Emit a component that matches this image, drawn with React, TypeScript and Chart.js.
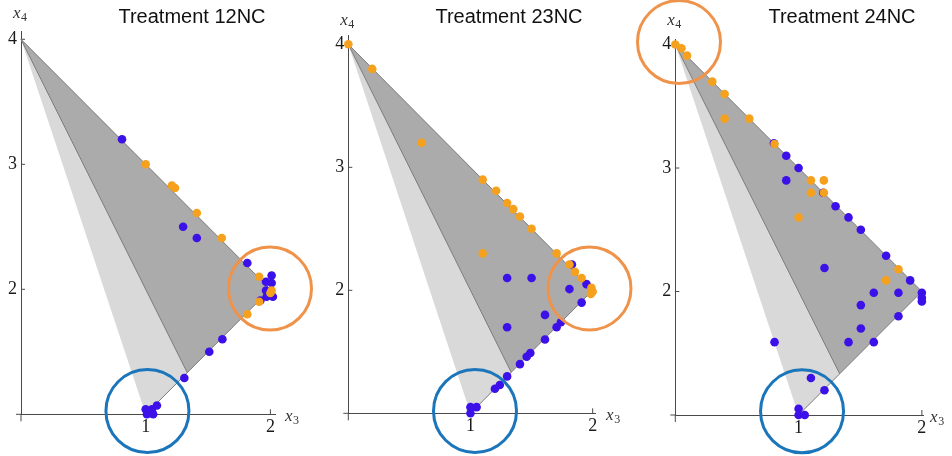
import React, { useEffect, useRef } from "react";
import { Chart, registerables } from "chart.js";

Chart.register(...registerables);

type Pt = [number, number];

// ---------- data ----------
const xTickValues = [1, 2];
const yTickValues = [2, 3, 4];

const lightRegion: Pt[] = [[0, 4], [1, 1], [4 / 3, 4 / 3], [0, 4]];
const darkRegion: Pt[] = [[0, 4], [4 / 3, 4 / 3], [2, 2], [0, 4]];
const lowerEdge: Pt[] = [[1, 1], [4 / 3, 4 / 3]];

const titles = ["Treatment 12NC", "Treatment 23NC", "Treatment 24NC"];

const blue12: Pt[] = [
  [0.81, 3.2], [1.3, 2.5], [1.41, 2.41], [1.815, 2.21], [2.01, 2.11], [1.965, 2.06],
  [2.01, 2.05], [1.965, 1.99], [2.02, 1.94], [1.97, 1.94], [2.0, 1.98], [1.92, 1.91],
  [1.615, 1.6], [1.51, 1.5], [1.31, 1.29], [1.0, 1.04], [1.05, 1.04], [1.09, 1.07],
  [1.01, 1.0], [1.06, 1.0],
];
const orange12: Pt[] = [
  [1.0, 3.0], [1.21, 2.83], [1.235, 2.81], [1.41, 2.61], [1.61, 2.41], [1.91, 2.1],
  [2.01, 1.99], [2.0, 1.97], [1.91, 1.9], [1.815, 1.8],
];
const blueRing12: Pt[] = [[1.014, 1.026]];
const orangeRing12: Pt[] = [[1.997, 2.006]];

const blue23: Pt[] = [
  [1.83, 2.21], [1.95, 2.05], [1.3, 2.1], [1.5, 2.1], [1.81, 2.01], [1.91, 1.9],
  [1.61, 1.8], [1.3, 1.7], [1.74, 1.74], [1.705, 1.7], [1.61, 1.6], [1.49, 1.49],
  [1.46, 1.46], [1.405, 1.4], [1.3, 1.3], [1.24, 1.23], [1.2, 1.2], [1.0, 1.05],
  [1.05, 1.05], [1.0, 1.0],
];
const orange23: Pt[] = [
  [0, 4], [0.196, 3.8], [0.6, 3.2], [1.1, 2.9], [1.21, 2.81], [1.3, 2.71], [1.35, 2.66],
  [1.405, 2.6], [1.5, 2.5], [1.1, 2.3], [1.705, 2.3], [1.81, 2.21], [1.855, 2.15],
  [1.91, 2.1], [1.99, 2.02], [2.0, 1.99], [1.985, 1.97],
];
const blueRing23: Pt[] = [[1.037, 1.019]];
const orangeRing23: Pt[] = [[1.974, 2.015]];

const blue24: Pt[] = [
  [0.8, 3.2], [0.9, 3.1], [1.0, 3.0], [0.9, 2.9], [1.2, 2.8], [1.3, 2.69], [1.405, 2.6],
  [1.505, 2.5], [1.71, 2.29], [1.21, 2.19], [1.905, 2.09], [1.61, 1.99], [1.81, 1.99],
  [2.0, 1.99], [2.0, 1.95], [2.0, 1.92], [1.505, 1.89], [1.81, 1.8], [1.505, 1.7],
  [0.805, 1.59], [1.405, 1.59], [1.61, 1.59], [1.1, 1.3], [1.21, 1.2], [1.0, 1.05],
  [1.0, 1.0], [1.05, 1.0],
];
const orange24: Pt[] = [
  [0, 4], [0.05, 3.97], [0.095, 3.91], [0.3, 3.7], [0.4, 3.6], [0.4, 3.4], [0.6, 3.4],
  [0.805, 3.195], [1.1, 2.9], [1.205, 2.9], [1.1, 2.8], [1.205, 2.8], [1.0, 2.6],
  [1.81, 2.18], [1.71, 2.09],
];
const blueRing24: Pt[] = [[1.028, 1.03]];
const orangeRing24: Pt[] = [[0.03, 4.02]];

// ---------- styles / layout ----------
const BLUE = "#3C10E8";
const ORANGE = "#F6A11E";
const BLUE_RING = "#1B75BB";
const ORANGE_RING = "#F0934A";
const LIGHT_GRAY = "#D9D9D9";
const DARK_GRAY = "#ABABAB";
const EDGE = "#7A7A7A";
const AXIS = "#4A4A4A";
const SERIF = "'Liberation Serif', 'DejaVu Serif', serif";

interface PanelCfg {
  left: number;
  width: number;
  areaLeft: number;
  areaRight: number;
  areaTop: number;
  areaBottom: number;
  xMax: number;
  yMax: number;
  x4Baseline: number;
  x3Offset: number;
  titleCenter: number;
  title: string;
  blue: Pt[];
  orange: Pt[];
  blueRing: Pt[];
  orangeRing: Pt[];
}

const H = 456;

const panels: PanelCfg[] = [
  {
    left: 0, width: 316, areaLeft: 21, areaRight: 275.0, areaTop: 31.8, areaBottom: 414.3,
    xMax: 2.037, yMax: 4.06, x4Baseline: 18, x3Offset: 10, titleCenter: 192, title: titles[0],
    blue: blue12, orange: orange12, blueRing: blueRing12, orangeRing: orangeRing12,
  },
  {
    left: 316, width: 324, areaLeft: 32.3, areaRight: 279.1, areaTop: 35.1, areaBottom: 413.3,
    xMax: 2.02, yMax: 4.075, x4Baseline: 25, x3Offset: 11, titleCenter: 509, title: titles[1],
    blue: blue23, orange: orange23, blueRing: blueRing23, orangeRing: orangeRing23,
  },
  {
    left: 632, width: 320, areaLeft: 43.3, areaRight: 291.1, areaTop: 39.6, areaBottom: 415,
    xMax: 2.01, yMax: 4.04, x4Baseline: 25, x3Offset: 7, titleCenter: 842, title: titles[2],
    blue: blue24, orange: orange24, blueRing: blueRing24, orangeRing: orangeRing24,
  },
];

const toXY = (a: Pt[]) => a.map(([x, y]) => ({ x, y }));

function makeAxisPlugin(cfg: PanelCfg) {
  return {
    id: "axisExtras",
    beforeDatasetsDraw(chart: any) {
      const ctx: CanvasRenderingContext2D = chart.ctx;
      const xs = chart.scales.x;
      const ys = chart.scales.y;
      const x0 = xs.getPixelForValue(0);
      const y1 = ys.getPixelForValue(1);
      ctx.save();
      ctx.strokeStyle = AXIS;
      ctx.lineWidth = 1;
      ctx.beginPath();
      // axis extensions past the crossing
      ctx.moveTo(x0, y1);
      ctx.lineTo(x0, y1 + 7);
      ctx.moveTo(x0, y1);
      ctx.lineTo(x0 - 5, y1);
      // inward tick marks
      for (const v of xTickValues) {
        const px = xs.getPixelForValue(v);
        ctx.moveTo(px, y1);
        ctx.lineTo(px, y1 - 5);
      }
      for (const v of yTickValues) {
        const py = ys.getPixelForValue(v);
        ctx.moveTo(x0, py);
        ctx.lineTo(x0 + 4, py);
      }
      ctx.stroke();
      ctx.restore();
    },
    afterDraw(chart: any) {
      const ctx: CanvasRenderingContext2D = chart.ctx;
      const area = chart.chartArea;
      ctx.save();
      ctx.fillStyle = "#333";
      ctx.textBaseline = "alphabetic";
      ctx.textAlign = "left";
      // x4 label
      let lx = area.left - 8;
      ctx.font = `italic 17px ${SERIF}`;
      ctx.fillText("x", lx, cfg.x4Baseline);
      let w = ctx.measureText("x").width;
      ctx.font = `12px ${SERIF}`;
      ctx.fillText("4", lx + w + 0.5, cfg.x4Baseline + 3);
      // x3 label
      lx = area.right + cfg.x3Offset;
      const by = area.bottom + 6.5;
      ctx.font = `italic 17px ${SERIF}`;
      ctx.fillText("x", lx, by);
      w = ctx.measureText("x").width;
      ctx.font = `12px ${SERIF}`;
      ctx.fillText("3", lx + w + 0.5, by + 3);
      ctx.restore();
    },
  };
}

function Panel({ cfg }: { cfg: PanelCfg }) {
  const ref = useRef<HTMLCanvasElement>(null);
  useEffect(() => {
    const canvas = ref.current!;
    const chart = new Chart(canvas, {
      type: "scatter",
      data: {
        datasets: [
          {
            type: "scatter",
            data: toXY(cfg.orangeRing),
            pointRadius: 41.5,
            pointBorderWidth: 3,
            pointBackgroundColor: "rgba(0,0,0,0)",
            pointBorderColor: ORANGE_RING,
            order: 0,
            clip: false,
          } as any,
          {
            type: "scatter",
            data: toXY(cfg.blueRing),
            pointRadius: 41.5,
            pointBorderWidth: 3,
            pointBackgroundColor: "rgba(0,0,0,0)",
            pointBorderColor: BLUE_RING,
            order: 0,
            clip: false,
          } as any,
          {
            type: "scatter",
            data: toXY(cfg.orange),
            pointRadius: 4.3,
            pointBorderWidth: 0,
            pointBackgroundColor: ORANGE,
            pointBorderColor: ORANGE,
            order: 1,
            clip: false,
          } as any,
          {
            type: "scatter",
            data: toXY(cfg.blue),
            pointRadius: 4.3,
            pointBorderWidth: 0,
            pointBackgroundColor: BLUE,
            pointBorderColor: BLUE,
            order: 2,
            clip: false,
          } as any,
          {
            type: "line",
            data: toXY(lowerEdge),
            borderColor: EDGE,
            borderWidth: 1,
            fill: false,
            pointRadius: 0,
            tension: 0,
            order: 3,
            clip: false,
          } as any,
          {
            type: "line",
            data: toXY(darkRegion),
            borderColor: EDGE,
            borderWidth: 1,
            backgroundColor: DARK_GRAY,
            fill: "shape",
            pointRadius: 0,
            tension: 0,
            order: 4,
            clip: false,
          } as any,
          {
            type: "line",
            data: toXY(lightRegion),
            borderColor: LIGHT_GRAY,
            borderWidth: 0,
            backgroundColor: LIGHT_GRAY,
            fill: "shape",
            pointRadius: 0,
            tension: 0,
            order: 5,
            clip: false,
          } as any,
        ],
      },
      options: {
        responsive: false,
        animation: false,
        devicePixelRatio: 1,
        events: [],
        layout: {
          autoPadding: false,
          padding: {
            left: 0,
            top: cfg.areaTop,
            right: cfg.width - cfg.areaRight,
            bottom: 0,
          },
        },
        plugins: {
          legend: { display: false },
          tooltip: { enabled: false },
          title: { display: false },
        },
        scales: {
          x: {
            type: "linear",
            min: 0,
            max: cfg.xMax,
            position: "bottom",
            grid: { display: false, drawTicks: false },
            border: { display: true, color: AXIS, width: 1 },
            afterBuildTicks: (s: any) => {
              s.ticks = xTickValues.map((v) => ({ value: v }));
            },
            afterFit: (s: any) => {
              s.height = H - cfg.areaBottom;
            },
            ticks: {
              autoSkip: false,
              maxRotation: 0,
              padding: 2,
              color: "#1a1a1a",
              font: { family: SERIF, size: 18 },
              callback: (v: any) => String(v),
            },
          },
          y: {
            type: "linear",
            min: 1,
            max: cfg.yMax,
            position: "left",
            grid: { display: false, drawTicks: false },
            border: { display: true, color: AXIS, width: 1 },
            afterBuildTicks: (s: any) => {
              s.ticks = yTickValues.map((v) => ({ value: v }));
            },
            afterFit: (s: any) => {
              s.width = cfg.areaLeft;
            },
            ticks: {
              autoSkip: false,
              padding: 4,
              color: "#1a1a1a",
              font: { family: SERIF, size: 18 },
              callback: (v: any) => String(v),
            },
          },
        },
      },
      plugins: [makeAxisPlugin(cfg)],
    } as any);
    return () => chart.destroy();
  }, [cfg]);
  return (
    <canvas
      ref={ref}
      width={cfg.width}
      height={H}
      style={{ position: "absolute", left: cfg.left, top: 0, width: cfg.width, height: H }}
    />
  );
}

export default function App() {
  return (
    <div
      style={{
        position: "absolute",
        left: 0,
        top: 0,
        width: 952,
        height: H,
        background: "#fff",
        overflow: "hidden",
      }}
    >
      {panels.map((p, i) => (
        <Panel key={i} cfg={p} />
      ))}
      {panels.map((p, i) => (
        <div
          key={"t" + i}
          style={{
            position: "absolute",
            left: p.titleCenter - 110,
            width: 220,
            top: 4,
            textAlign: "center",
            font: "20px 'Liberation Sans', Arial, sans-serif",
            lineHeight: "24px",
            color: "#111",
            whiteSpace: "nowrap",
          }}
        >
          {p.title}
        </div>
      ))}
    </div>
  );
}
